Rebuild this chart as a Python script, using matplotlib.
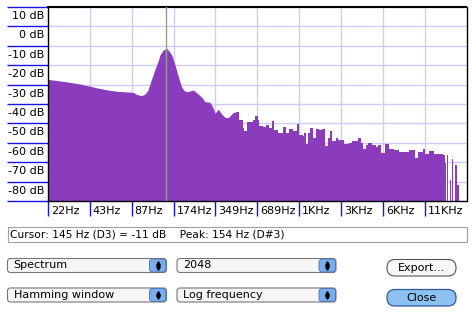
import matplotlib
matplotlib.use('Agg')
import matplotlib.pyplot as plt
from matplotlib.patches import FancyBboxPatch, Rectangle
from matplotlib.transforms import blended_transform_factory, ScaledTranslation

# spectrum (Hz, dB)
# smooth low part
low_hz = [21.5, 25.4, 30.0, 35.4, 41.8, 49.3, 58.2, 68.7, 81.0, 88.0, 92.9, 101, 106.8,
          112.8, 119.1, 126.1, 133.1, 137.6, 144.6, 153.7, 160, 167, 176.5, 186.4, 197.2,
          205, 214.1, 226.1, 238.9, 252.7, 274.6, 290, 315, 332.7, 342, 361.3, 382.4, 403.9,
          426.5, 463.5, 484]
low_db = [-27.3, -28.0, -28.7, -29.5, -30.6, -31.8, -32.8, -33.5, -33.8, -34.0, -35.0, -35.7,
          -35.0, -32.8, -27.6, -22.5, -18.2, -14.7, -12.3, -11.3, -12.8, -14.7, -19.9, -25.9,
          -31.4, -33.0, -33.7, -33.3, -32.8, -34.2, -36.5, -38.8, -39.1, -42.2, -44.8, -42.7,
          -45.2, -46.9, -47.1, -44.3, -44.3]
# noisy high part (drawn as bins)
high_hz = [484, 511, 541, 555.5, 578, 603, 638.5, 663, 693.6, 712, 753.5, 796, 840.5, 874.6,
           913, 966, 1049, 1108, 1171, 1251, 1336.5, 1378, 1458, 1497, 1547, 1610, 1653,
           1737.5, 1817, 1919, 2030, 2119.5, 2206, 2303, 2396, 2531, 2629, 2749, 2896, 3147,
           3329, 3652, 3819, 3994, 4149, 4339, 4637, 4897, 5121, 5382, 5670, 6088, 6613,
           7184, 7600, 8121, 8578, 9365, 9907, 10692, 11154, 11780, 12798, 13902, 14855,
           15355, 15533, 15793, 16058, 16326, 16875, 17157, 17444, 17736, 18242, 18949,
           19588, 22050]
high_db = [-44.3, -48.1, -52.4, -54.1, -49.5, -49.5, -48.1, -46.0, -48.4, -51.2, -51.6, -50.7,
           -52.4, -48.6, -53.3, -55.0, -51.9, -54.7, -52.9, -54.1, -50.2, -55.9, -56.7, -55.0,
           -60.7, -55.0, -52.4, -57.6, -52.9, -53.6, -52.9, -61.9, -57.6, -53.8, -59.3, -57.6,
           -58.4, -58.8, -60.7, -60.2, -59.3, -57.6, -60.2, -63.3, -61.0, -60.2, -61.0, -62.4,
           -61.0, -65.3, -60.5, -63.3, -63.6, -65.0, -64.5, -65.0, -63.6, -67.9, -64.8, -63.3,
           -65.7, -64.1, -65.9, -65.9, -66.2, -66.7, -70.5, -120, -66.2, -120, -79.1, -120,
           -68.4, -120, -71.4, -81.7, -120, -120]

db_ticks = [10, 0, -10, -20, -30, -40, -50, -60, -70, -80, -90]
db_labels = ['10 dB', '0 dB', '-10 dB', '-20 dB', '-30 dB', '-40 dB', '-50 dB',
             '-60 dB', '-70 dB', '-80 dB', '']
freq_ticks = [21.53, 43.07, 86.13, 172.3, 344.5, 689.1, 1378, 2756, 5512, 11025]
freq_labels = ['22Hz', '43Hz', '87Hz', '174Hz', '349Hz', '689Hz', '1KHz', '3KHz', '6KHz', '11KHz']
cursor_hz = 153
status_text = 'Cursor: 145 Hz (D3) = -11 dB    Peak: 154 Hz (D#3)'

purple = '#8a3cbd'
grid_col = '#ccccff'
ruler_col = '#1414e6'
W, H = 476, 313

fig = plt.figure(figsize=(W / 100, H / 100), dpi=100)
fig.patch.set_facecolor('white')

# overlay in pixel coords for the dialog widgets
ui = fig.add_axes([0, 0, 1, 1])
ui.set_xlim(0, W)
ui.set_ylim(H, 0)
ui.axis('off')

ax = fig.add_axes([48 / W, (H - 201) / H, (466.5 - 48) / W, (201 - 7) / H])
ax.set_xscale('log', base=2)
ax.set_xlim(21.53, 22050)
ax.set_ylim(-90, 10)

ax.set_yticks(db_ticks)
ax.set_xticks(freq_ticks)
ax.minorticks_off()
ax.grid(True, color=grid_col, lw=1, zorder=0)
ax.set_axisbelow(True)
ax.tick_params(axis='y', length=41 * 0.72, width=1, color=ruler_col, labelleft=False)
ax.tick_params(axis='x', length=15 * 0.72, width=1, color=ruler_col, labelbottom=False)
for s in ax.spines.values():
    s.set_color('black')
    s.set_linewidth(1)
ax.spines['top'].set_linewidth(1.5)

ax.fill_between(low_hz, low_db, -130, color=purple, lw=0, zorder=2)
ax.fill_between(high_hz, high_db, -130, step='post', color=purple, lw=0, zorder=2)
ax.axvline(cursor_hz, color='#999999', lw=1, zorder=3)

# ruler labels
ytr = blended_transform_factory(ax.transAxes, ax.transData)
xtr = blended_transform_factory(ax.transData, ax.transAxes)
for v, lbl in zip(db_ticks, db_labels):
    ax.text(0, v, lbl, transform=ytr + ScaledTranslation(-0.04, -0.09, fig.dpi_scale_trans),
            ha='right', va='center', fontsize=8, clip_on=False)
for f, lbl in zip(freq_ticks, freq_labels):
    ax.text(f, 0, lbl, transform=xtr + ScaledTranslation(0.03, -0.10, fig.dpi_scale_trans),
            ha='left', va='center', fontsize=8, clip_on=False)

# status line
ui.add_patch(Rectangle((7.5, 227), 459, 15, fc='white', ec='#a0a0a0', lw=0.8))
ui.text(9.5, 234.8, status_text, ha='left', va='center', fontsize=7.7)

# popup menus
popups = [(7.5, 258.5, 'Spectrum'), (177, 258.5, '2048'),
          (7.5, 288, 'Hamming window'), (177, 288, 'Log frequency')]
for x0, y0, lbl in popups:
    ui.add_patch(FancyBboxPatch((x0, y0), 159, 14, boxstyle='round,pad=0,rounding_size=3',
                                fc='#f6f6f6', ec='#777777', lw=0.8))
    ui.add_patch(FancyBboxPatch((x0 + 142, y0 + 0.5), 16.5, 13, boxstyle='round,pad=0,rounding_size=3',
                                fc='#78aef0', ec='#4a6fa8', lw=0.6))
    ui.plot([x0 + 150.2], [y0 + 4.6], marker='^', ms=2.6, color='black', lw=0)
    ui.plot([x0 + 150.2], [y0 + 9.4], marker='v', ms=2.6, color='black', lw=0)
    ui.text(x0 + 6, y0 + 7, lbl, ha='left', va='center', fontsize=8)

# buttons
ui.add_patch(FancyBboxPatch((387, 259.5), 69, 16.5, boxstyle='round,pad=0,rounding_size=8',
                            fc='#f8f8f8', ec='#555555', lw=0.8))
ui.text(421.5, 267.8, 'Export...', ha='center', va='center', fontsize=8)
ui.add_patch(FancyBboxPatch((387, 289.5), 69, 16.5, boxstyle='round,pad=0,rounding_size=8',
                            fc='#8cc2f2', ec='#34589a', lw=0.9))
ui.text(421.5, 297.8, 'Close', ha='center', va='center', fontsize=8)

fig.savefig('out.png', dpi=100)
